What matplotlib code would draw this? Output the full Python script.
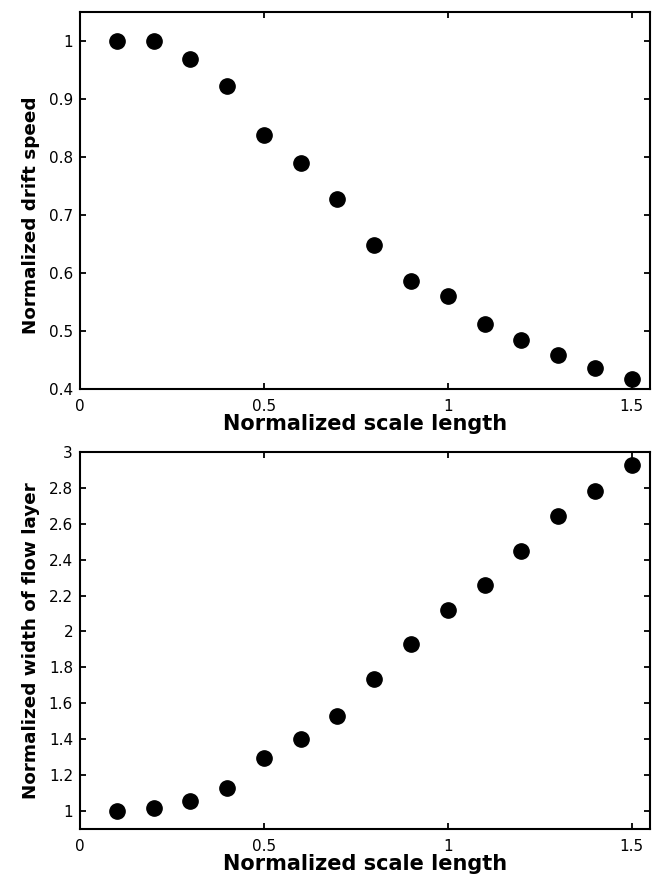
import numpy as np
import matplotlib
matplotlib.use("Agg")
import matplotlib.pyplot as plt

plt.rcParams['font.family'] = ['DejaVu Sans']

# scale length (normalized)
scale_len = [0.1, 0.2, 0.3, 0.4, 0.5, 0.6, 0.7, 0.8, 0.9, 1.0, 1.1, 1.2, 1.3, 1.4, 1.5]
# top panel: normalized drift speed
drift_speed = [1.0, 1.0, 0.969, 0.922, 0.838, 0.790, 0.728, 0.648, 0.587, 0.560,
               0.512, 0.485, 0.458, 0.437, 0.417]
# bottom panel: normalized width of flow layer
flow_width = [1.0, 1.017, 1.057, 1.131, 1.293, 1.404, 1.53, 1.737, 1.928, 2.122,
              2.261, 2.45, 2.644, 2.785, 2.928]

xticks = [0, 0.5, 1, 1.5]
xticklabels = ["0", "0.5", "1", "1.5"]
yticks_top = [0.4, 0.5, 0.6, 0.7, 0.8, 0.9, 1.0]
yticklabels_top = ["0.4", "0.5", "0.6", "0.7", "0.8", "0.9", "1"]
yticks_bot = [1.0, 1.2, 1.4, 1.6, 1.8, 2.0, 2.2, 2.4, 2.6, 2.8, 3.0]
yticklabels_bot = ["1", "1.2", "1.4", "1.6", "1.8", "2", "2.2", "2.4", "2.6", "2.8", "3"]

fig = plt.figure(figsize=(6.59, 8.77), dpi=100)
ax1 = fig.add_axes([0.1214, 0.5564, 0.865, 0.430])
ax2 = fig.add_axes([0.1214, 0.0547, 0.865, 0.430])

def style(ax):
    for s in ax.spines.values():
        s.set_linewidth(1.5)
    ax.tick_params(direction="in", length=4, width=1.3, top=True, right=True,
                   labelsize=11)
    ax.tick_params(axis="x", pad=7)
    ax.tick_params(axis="y", pad=5)
    ax.set_xlim(0, 1.55)
    ax.set_xticks(xticks)
    ax.set_xticklabels(xticklabels)
    ax.set_xlabel("Normalized scale length", fontsize=15, fontweight="bold", labelpad=0)

ax1.plot(scale_len, drift_speed, "o", color="black", markersize=11)
style(ax1)
ax1.set_ylim(0.4, 1.05)
ax1.set_yticks(yticks_top)
ax1.set_yticklabels(yticklabels_top)
ax1.set_ylabel("Normalized drift speed", fontsize=13.2, fontweight="bold", labelpad=6)
ax1.yaxis.label.set_y(0.4615)  # label sits a bit low in the original

ax2.plot(scale_len, flow_width, "o", color="black", markersize=11)
style(ax2)
ax2.set_ylim(0.9, 3.0)
ax2.set_yticks(yticks_bot)
ax2.set_yticklabels(yticklabels_bot)
ax2.set_ylabel("Normalized width of flow layer", fontsize=13.2, fontweight="bold", labelpad=6)

fig.savefig("out.png", dpi=100)
